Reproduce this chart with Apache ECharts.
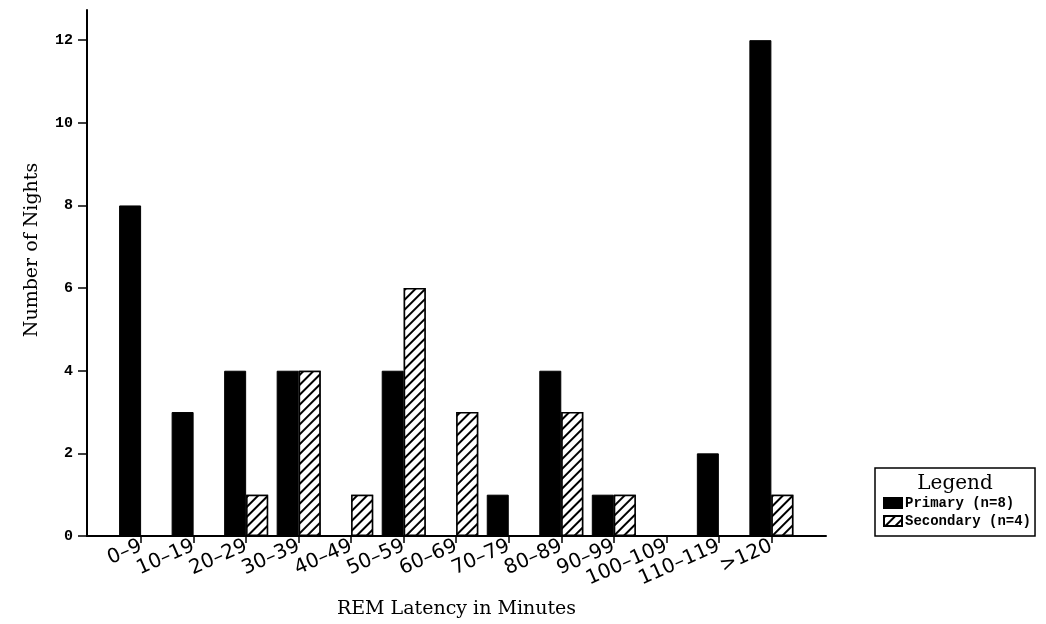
<!DOCTYPE html>
<html lang="en">

<head>
    <meta charset="UTF-8">
    <title>REM Latency</title>
    <script src="https://cdn.jsdelivr.net/npm/echarts@6/dist/echarts.min.js"></script>
    <style>
        html,
        body {
            margin: 0;
            padding: 0;
            width: 100%;
            height: 100%;
            background: #fff;
        }

        #container {
            width: 1046px;
            height: 624px;
        }
    </style>
</head>

<body>
    <div id="container"></div>
    <script>
        // data
        const categories = ['0–9', '10–19', '20–29', '30–39', '40–49', '50–59', '60–69',
            '70–79', '80–89', '90–99', '100–109', '110–119', '>120'];
        const primary = [8, 3, 4, 4, 0, 4, 0, 1, 4, 1, 0, 2, 12];
        const secondary = [0, 0, 1, 4, 1, 6, 3, 0, 3, 1, 0, 0, 1];
        const yTicks = [0, 2, 4, 6, 8, 10, 12];

        const catIndex = categories.map((c, i) => i);

        let chart = echarts.init(document.getElementById('container'));

        let option = {
            backgroundColor: '#fff',
            animation: false,
            grid: {
                left: 87,
                right: 220,
                top: 10,
                bottom: 81,
            },
            legend: {
                orient: 'vertical',
                left: 875,
                top: 468,
                padding: [28, 4, 8, 8],
                borderColor: '#000',
                borderWidth: 1.5,
                icon: 'rect',
                itemWidth: 18,
                itemHeight: 10,
                itemGap: 4,
                textStyle: {
                    fontFamily: 'Liberation Mono',
                    fontWeight: 'bold',
                    fontSize: 14,
                    color: '#000',
                    padding: [0, 0, 0, -2],
                },
                data: ['Primary (n=8)', 'Secondary (n=4)'],
            },
            graphic: [{
                    type: 'text',
                    x: 955,
                    y: 484,
                    style: {
                        text: 'Legend',
                        font: '20px "DejaVu Serif"',
                        fill: '#000',
                        align: 'center',
                        verticalAlign: 'middle',
                    },
                },
                {
                    type: 'text',
                    x: 32,
                    y: 250,
                    rotation: Math.PI / 2,
                    style: {
                        text: 'Number of Nights',
                        font: '19px "DejaVu Serif"',
                        fill: '#000',
                        align: 'center',
                        verticalAlign: 'middle',
                    },
                },
            ],
            xAxis: {
                type: 'value',
                min: -1.03,
                max: 13.04,
                splitLine: { show: false },
                axisLine: { lineStyle: { color: '#000', width: 2 } },
                axisTick: {
                    show: true,
                    customValues: catIndex,
                    length: 7,
                    lineStyle: { color: '#000', width: 1.5 },
                },
                axisLabel: {
                    customValues: catIndex,
                    rotate: 24,
                    margin: 9,
                    fontFamily: 'DejaVu Sans',
                    fontSize: 20,
                    color: '#000',
                    formatter: v => categories[Math.round(v)] || '',
                },
                name: 'REM Latency in Minutes',
                nameLocation: 'middle',
                nameGap: 64,
                nameTextStyle: {
                    fontFamily: 'DejaVu Serif',
                    fontSize: 19,
                    color: '#000',
                },
            },
            yAxis: {
                type: 'value',
                min: 0,
                max: 12.73,
                splitLine: { show: false },
                axisLine: { show: true, onZero: false, lineStyle: { color: '#000', width: 2 } },
                axisTick: {
                    show: true,
                    customValues: yTicks,
                    length: 9,
                    lineStyle: { color: '#000', width: 1.5 },
                },
                axisLabel: {
                    customValues: yTicks,
                    margin: 14,
                    fontFamily: 'Liberation Mono',
                    fontWeight: 'bold',
                    fontSize: 15,
                    color: '#000',
                },
            },
            series: [{
                    name: 'Primary (n=8)',
                    type: 'bar',
                    barWidth: 22,
                    barGap: '0%',
                    itemStyle: {
                        color: '#000',
                        borderColor: '#000',
                        borderWidth: 1,
                    },
                    data: primary.map((v, i) => [i, v]),
                },
                {
                    name: 'Secondary (n=4)',
                    type: 'bar',
                    barWidth: 22,
                    barGap: '0%',
                    itemStyle: {
                        color: '#fff',
                        borderColor: '#000',
                        borderWidth: 1.5,
                        decal: {
                            symbol: 'rect',
                            symbolSize: 1,
                            dashArrayX: [1, 0],
                            dashArrayY: [1.6, 5],
                            rotation: -Math.PI / 4,
                            color: '#000',
                            backgroundColor: '#fff',
                        },
                    },
                    data: secondary.map((v, i) => [i, v]),
                },
            ],
        };

        chart.setOption(option);
    </script>
</body>

</html>
